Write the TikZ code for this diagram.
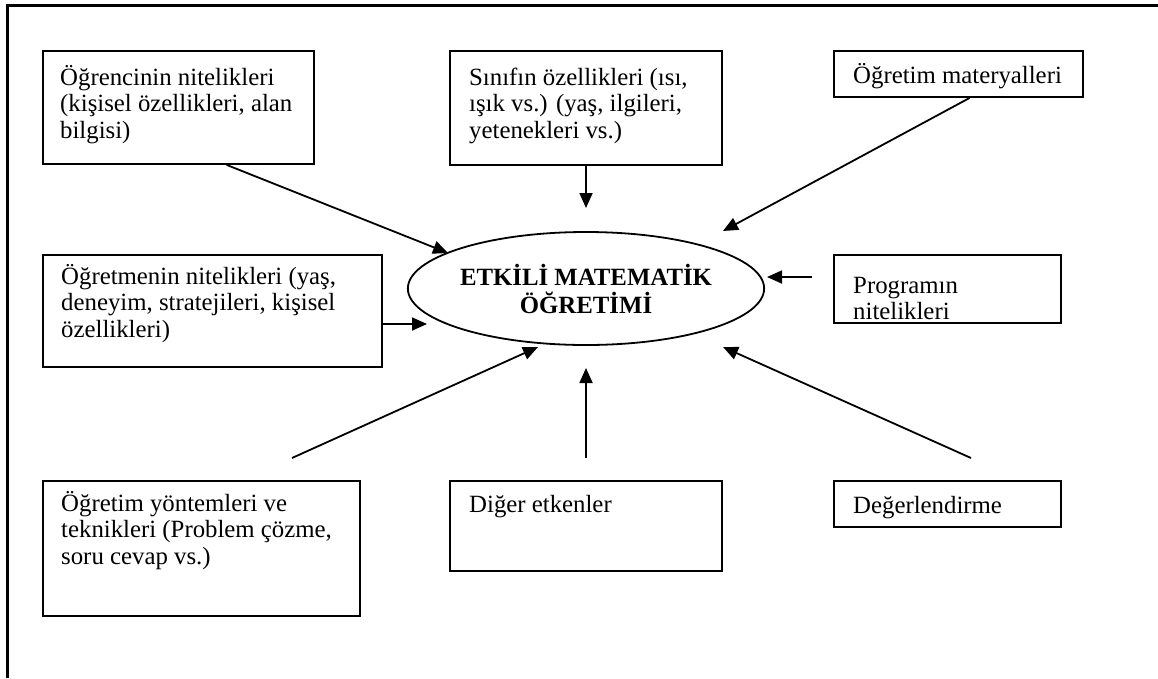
\documentclass[tikz,border=0pt]{standalone}
\usepackage{fontspec}
\setmainfont{Liberation Serif}
\usetikzlibrary{arrows.meta,shapes.geometric}

\tikzset{
  kutu/.style={draw, line width=1.8pt, inner sep=0pt},
  yazi/.style={anchor=base west, align=left, inner sep=0pt, font=\fontsize{24.8}{26.5}\selectfont},
  ok/.style={line width=1.8pt, -{Triangle[length=15pt,width=13pt]}}
}

\begin{document}
\begin{tikzpicture}[x=1pt,y=-1pt]
        \useasboundingbox (0,0) rectangle (1158,678);
        \draw[line width=3pt] (7.5,678) -- (7.5,5.5) -- (1158,5.5);
        % kutular
        \node[kutu, minimum width=271, minimum height=113] (ogrenci) at (178.5,107.5) {};
        \node[kutu, minimum width=272, minimum height=114] (sinif) at (586,108) {};
        \node[kutu, minimum width=249, minimum height=46] (materyal) at (958.5,74) {};
        \node[kutu, minimum width=339, minimum height=112] (ogretmen) at (212.5,311) {};
        \node[kutu, minimum width=227, minimum height=68] (program) at (947.5,289) {};
        \node[kutu, minimum width=317, minimum height=135] (yontem) at (201.5,548.5) {};
        \node[kutu, minimum width=272, minimum height=90] (diger) at (586,526) {};
        \node[kutu, minimum width=227, minimum height=46] (deger) at (947.5,504) {};
        % yazilar (son satirin tabani)
        \node[yazi] (ogrenciT) at (60,138) {Öğrencinin nitelikleri\\(kişisel özellikleri, alan\\bilgisi)};
        \node[yazi] (sinifT) at (469,138) {Sınıfın özellikleri (ısı,\\ışık vs.) (yaş, ilgileri,\\yetenekleri vs.)};
        \node[yazi] (materyalT) at (853,83) {Öğretim materyalleri};
        \node[yazi] (ogretmenT) at (61,337) {Öğretmenin nitelikleri (yaş,\\deneyim, stratejileri, kişisel\\özellikleri)};
        \node[yazi] (programT) at (853,319.5) {Programın\\nitelikleri};
        \node[yazi] (yontemT) at (61,564) {Öğretim yöntemleri ve\\teknikleri (Problem çözme,\\soru cevap vs.)};
        \node[yazi] (digerT) at (469,512) {Diğer etkenler};
        \node[yazi] (degerT) at (853,513) {Değerlendirme};
        % merkez
        \node[ellipse, draw, line width=1.8pt, inner sep=0pt, minimum width=316, minimum height=113, align=center, font=\fontsize{24.8}{28}\selectfont\bfseries] (merkez) at (586,288.5) {ETKİLİ MATEMATİK\\ÖĞRETİMİ};
        % ok uclari
        \coordinate (u1) at (448,253);
        \coordinate (u2) at (586,208);
        \coordinate (u3) at (723,231);
        \coordinate (u4) at (427,324);
        \coordinate (u5) at (767,277);
        \coordinate (u6) at (538,347);
        \coordinate (u7) at (586,368);
        \coordinate (u8) at (723,347);
        \coordinate (b5) at (812,277);
        \coordinate (b6) at (292,458);
        \coordinate (b7) at (586,458);
        \coordinate (b8) at (971,458);
        % oklar
        \draw[ok] (ogrenci.310) -- (u1);
        \draw[ok] (sinif.south) -- (u2);
        \draw[ok] (materyal.295) -- (u3);
        \draw[ok] (ogretmen.east |- u4) -- (u4);
        \draw[ok] (b5) -- (u5);
        \draw[ok] (b6) -- (u6);
        \draw[ok] (b7) -- (u7);
        \draw[ok] (b8) -- (u8);
\end{tikzpicture}
\end{document}
